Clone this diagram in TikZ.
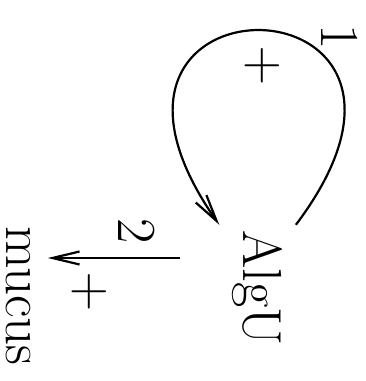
\documentclass[tikz,border=0pt]{standalone}
\usepackage{fontspec}
\setmainfont{Latin Modern Roman}
\usetikzlibrary{arrows.meta}
\begin{document}
\begin{tikzpicture}[x=1pt,y=1pt,
  lbl/.style={rotate=-90, anchor=base, inner sep=0pt, font=\fontsize{55}{60}\selectfont},
  plus/.style={inner sep=0pt, font=\fontsize{55}{60}\selectfont},
  conn/.style={line width=2.2pt, -{Straight Barb[length=27pt,width=13pt]}}]
\useasboundingbox (0,0) rectangle (365,-381);
\node[lbl] (algu) at (243,-288) {AlgU};
\node[lbl] (mucus) at (6,-296) {mucus};
\node[lbl] (one) at (321,-37) {1};
\node[lbl] (two) at (118,-231) {2};
\node[plus] (p1) at (262,-66) {+};
\node[plus] (p2) at (89,-292) {+};
\draw[conn] ([xshift=13.8pt,yshift=5.4pt]algu.north west) to[out=53,in=125,out distance=320pt,in distance=320pt] ([xshift=-12.3pt,yshift=5.4pt]algu.south west);
\draw[conn] ([xshift=-51.3pt,yshift=30pt]algu.south) -- ([xshift=17.3pt,yshift=38pt]mucus.north);
\end{tikzpicture}
\end{document}
